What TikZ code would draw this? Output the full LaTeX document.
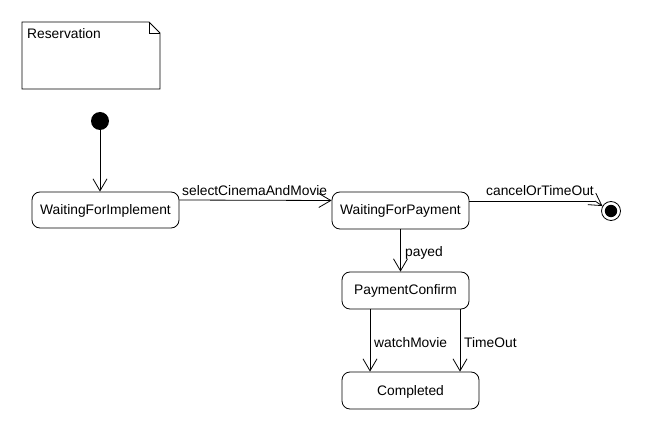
\documentclass[tikz,border=0pt]{standalone}
\usepackage{fontspec}
\setmainfont{Liberation Sans}
\usetikzlibrary{arrows.meta}
\begin{document}
\begin{tikzpicture}[x=1pt,y=-1pt,
  font=\fontsize{13.8}{16}\selectfont,
  state/.style={draw,line width=0.8pt,rounded corners=8pt,inner sep=0pt,text depth=1pt},
  trans/.style={draw,line width=0.8pt,-{Straight Barb[length=12pt,width=14pt,line width=0.8pt]}},
  lbl/.style={anchor=base west,inner sep=0pt}]
  \useasboundingbox (0,0) rectangle (650,430);
  % note with folded corner
  \draw[line width=0.8pt] (22,22) -- (149,22) -- (160,33) -- (160,89) -- (22,89) -- cycle;
  \draw[line width=0.8pt] (149,22) -- (149,33) -- (160,33);
  \node[lbl] (note) at (27,39) {Reservation};
  % initial and final pseudo-states
  \node[circle,fill=black,minimum size=18pt,inner sep=0pt] (init) at (100,121) {};
  \node[circle,draw,line width=0.8pt,minimum size=19pt,inner sep=0pt] (final) at (611,211) {};
  \fill (final.center) circle (6.2pt);
  % states
  \node[state,minimum width=147pt,minimum height=36pt] (wfi) at (105.5,210) {WaitingForImplement};
  \node[state,minimum width=137pt,minimum height=37pt] (wfp) at (400.5,210.5) {WaitingForPayment};
  \node[state,minimum width=127pt,minimum height=37pt] (pc) at (405.5,290.5) {PaymentConfirm};
  \node[state,minimum width=137pt,minimum height=37pt] (comp) at (410.5,390.5) {Completed};
  % transitions
  \draw[trans] (init) -- (init |- wfi.north);
  \draw[trans] ([yshift=10pt]wfi.east) -- ([yshift=10pt]wfp.west);
  \node[lbl] (l1) at (182,195.5) {selectCinemaAndMovie};
  \coordinate (bend) at (595,201);
  \draw[line width=0.8pt] ([yshift=9.5pt]wfp.east) -- (bend);
  \draw[trans] (bend) -- (final.150);
  \node[lbl] (l2) at (486,195.5) {cancelOrTimeOut};
  \draw[trans] (wfp.south) -- (wfp.south |- pc.north);
  \node[lbl] (l3) at (405,257) {payed};
  \draw[trans] ([xshift=-35.5pt]pc.south) -- ([xshift=-35.5pt]pc.south |- comp.north);
  \node[lbl] (l4) at (374,347) {watchMovie};
  \draw[trans] ([xshift=54.5pt]pc.south) -- ([xshift=54.5pt]pc.south |- comp.north);
  \node[lbl] (l5) at (464,347) {TimeOut};
\end{tikzpicture}
\end{document}
